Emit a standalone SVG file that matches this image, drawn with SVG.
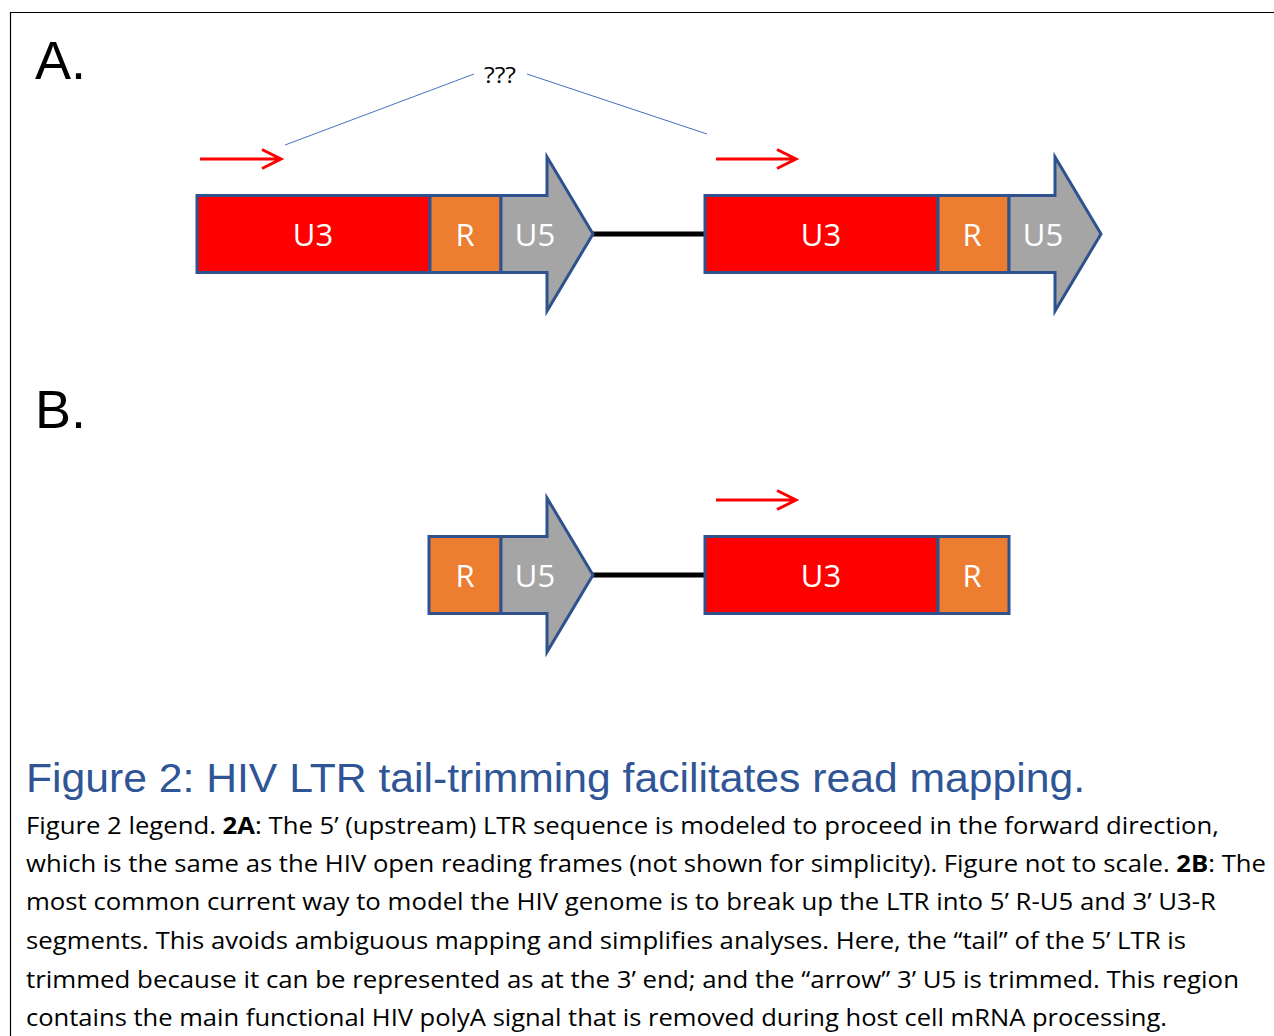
<svg xmlns="http://www.w3.org/2000/svg" width="1274" height="1036" viewBox="0 0 1274 1036">
<style>
.seg{stroke:#2F528F;stroke-width:3;stroke-linejoin:miter}
.u3{fill:#FF0000}
.r{fill:#ED7D31}
.u5{fill:#A5A5A5}
.lbl{font-family:"Open Sans","Noto Sans",sans-serif;font-size:31px;fill:#FFFFFF;text-anchor:middle}
.pan{font-family:"Liberation Sans",Arial,sans-serif;font-size:54px;fill:#000}
.leg{font-family:"Open Sans","Noto Sans",sans-serif;font-size:23px;fill:#000}
.link{stroke:#000;stroke-width:5}
.red{stroke:#FF0000;stroke-width:3;fill:none}
.blue{stroke:#4472C4;stroke-width:1;fill:none}
</style>
<rect width="1274" height="1036" fill="#FFFFFF"/>
<path d="M10.5 1036 V12.5 H1274" fill="none" stroke="#000" stroke-width="1.2"/>
<text class="pan" x="35" y="79">A.</text>
<text class="pan" x="35" y="428">B.</text>

<g id="connectors">
<line class="link" x1="592" y1="234" x2="706" y2="234"/>
<line class="link" x1="592" y1="575" x2="706" y2="575"/>
<line class="blue" x1="285" y1="145" x2="474" y2="74"/>
<line class="blue" x1="527" y1="74" x2="707" y2="134"/>
<path class="red" d="M200 159 H281 M262 149.5 L281 159 L262 168.5"/>
<path class="red" d="M716 159 H796 M777 149.5 L796 159 L777 168.5"/>
<path class="red" d="M716 500 H796 M777 490.5 L796 500 L777 509.5"/>
</g>

<text id="qqq" x="500" y="83" font-family="'Open Sans','Noto Sans',sans-serif" font-size="21" text-anchor="middle" fill="#000" textLength="32" lengthAdjust="spacingAndGlyphs">???</text>

<g id="A-left">
<rect class="seg u3" x="197" y="195.5" width="233" height="77"/>
<text class="lbl" x="313" y="246">U3</text>
<rect class="seg r" x="430" y="195.5" width="71" height="77"/>
<text class="lbl" x="465" y="246">R</text>
<polygon class="seg u5" points="501,195.5 547,195.5 547,157 593,234 547,311 547,272.5 501,272.5"/>
<text class="lbl" x="535" y="246">U5</text>
</g>

<g id="A-right">
<rect class="seg u3" x="705" y="195.5" width="233" height="77"/>
<text class="lbl" x="821" y="246">U3</text>
<rect class="seg r" x="938" y="195.5" width="71" height="77"/>
<text class="lbl" x="972" y="246">R</text>
<polygon class="seg u5" points="1009,195.5 1055,195.5 1055,157 1101,234 1055,311 1055,272.5 1009,272.5"/>
<text class="lbl" x="1043" y="246">U5</text>
</g>

<g id="B-left">
<rect class="seg r" x="429" y="536.5" width="72" height="77"/>
<text class="lbl" x="465" y="587">R</text>
<polygon class="seg u5" points="501,536.5 547,536.5 547,498 593,575 547,652 547,613.5 501,613.5"/>
<text class="lbl" x="535" y="587">U5</text>
</g>

<g id="B-right">
<rect class="seg u3" x="705" y="536.5" width="233" height="77"/>
<text class="lbl" x="821" y="587">U3</text>
<rect class="seg r" x="938" y="536.5" width="71" height="77"/>
<text class="lbl" x="972" y="587">R</text>
</g>

<text x="26" y="792" font-family="'Liberation Sans',Arial,sans-serif" font-size="40" fill="#2F5597" textLength="1059" lengthAdjust="spacingAndGlyphs">Figure 2: HIV LTR tail-trimming facilitates read mapping.</text>

<g id="legend" class="leg">
<text x="26" y="834" textLength="1193" lengthAdjust="spacingAndGlyphs">Figure 2 legend. <tspan font-weight="bold">2A</tspan>: The 5’ (upstream) LTR sequence is modeled to proceed in the forward direction,</text>
<text x="26" y="872" textLength="1240" lengthAdjust="spacingAndGlyphs">which is the same as the HIV open reading frames (not shown for simplicity). Figure not to scale. <tspan font-weight="bold">2B</tspan>: The</text>
<text x="26" y="910" textLength="1190" lengthAdjust="spacingAndGlyphs">most common current way to model the HIV genome is to break up the LTR into 5’ R-U5 and 3’ U3-R</text>
<text x="26" y="949" textLength="1160" lengthAdjust="spacingAndGlyphs">segments. This avoids ambiguous mapping and simplifies analyses. Here, the “tail” of the 5’ LTR is</text>
<text x="26" y="988" textLength="1213" lengthAdjust="spacingAndGlyphs">trimmed because it can be represented as at the 3’ end; and the “arrow” 3’ U5 is trimmed. This region</text>
<text x="26" y="1026" textLength="1141" lengthAdjust="spacingAndGlyphs">contains the main functional HIV polyA signal that is removed during host cell mRNA processing.</text>
</g>
</svg>
